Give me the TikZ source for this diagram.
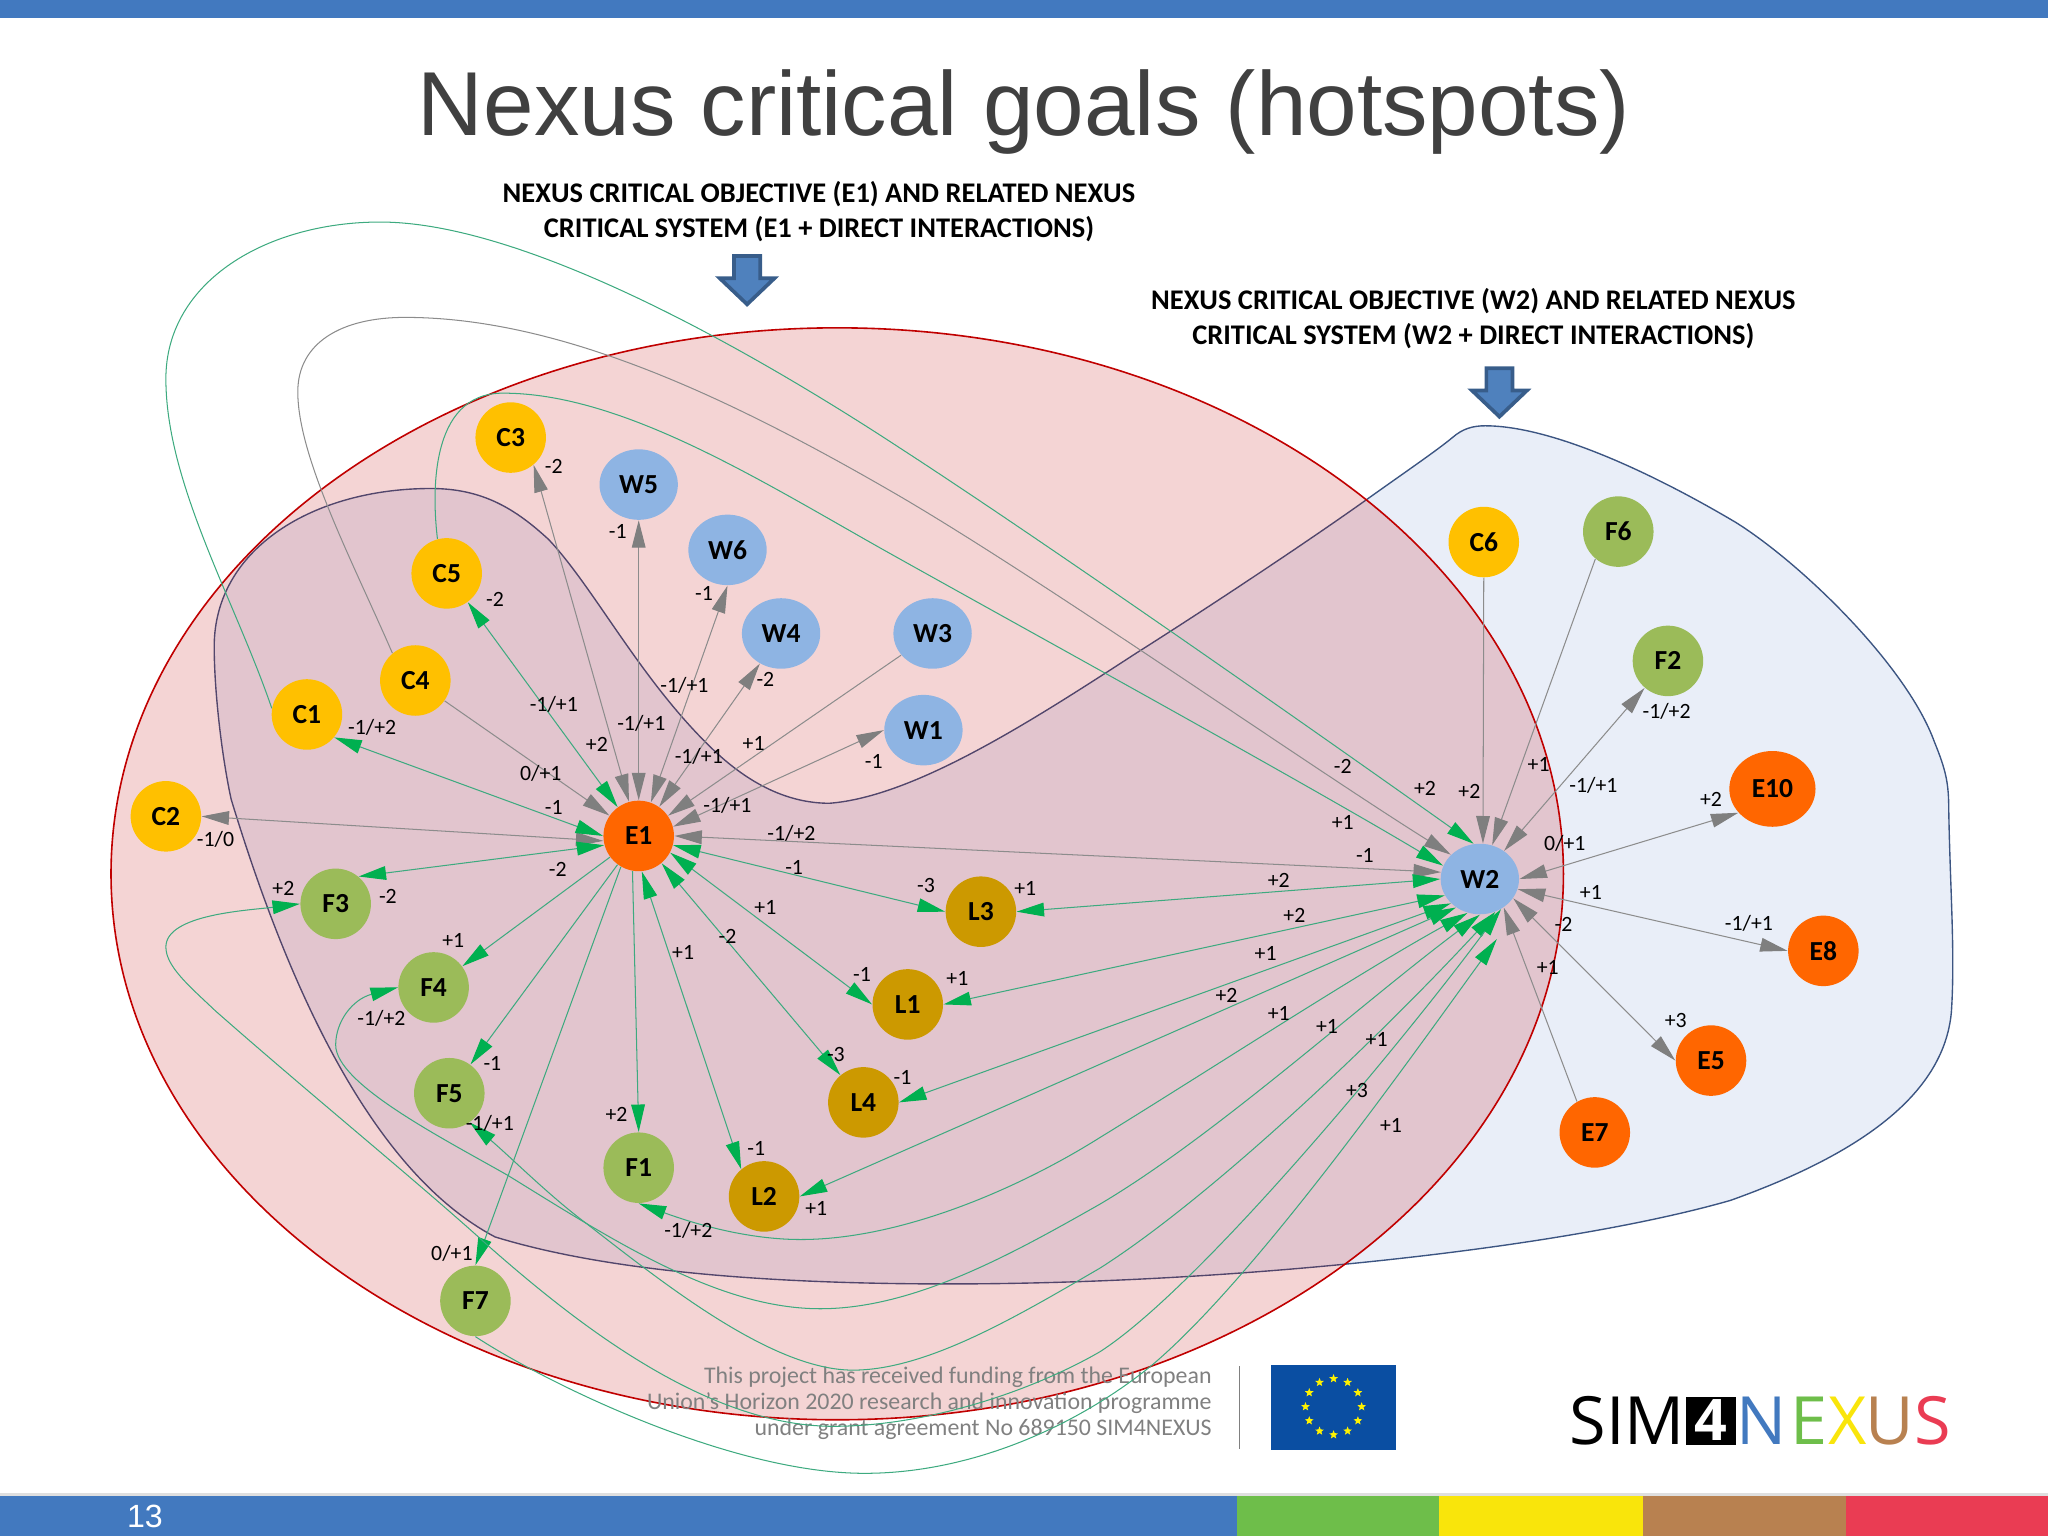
\documentclass[tikz,border=0pt]{standalone}
\usepackage{fontspec}
\setmainfont{Carlito}
\newfontfamily\titlefont{Liberation Sans}
\newfontfamily\logofont{Open Sans}
\usetikzlibrary{arrows.meta,shapes.geometric}
\definecolor{barblue}{HTML}{4279BF}
\definecolor{bargreen}{HTML}{6EBE4A}
\definecolor{baryellow}{HTML}{F9E50B}
\definecolor{barbrown}{HTML}{B88150}
\definecolor{barred}{HTML}{EA3C53}
\definecolor{linegreen}{HTML}{3DAA7F}
\definecolor{tipgreen}{HTML}{00B050}
\definecolor{linegray}{HTML}{8C8C8C}
\definecolor{tipgray}{HTML}{7F7F7F}
\tikzset{
	blob/.style={draw=none,shape=ellipse,inner sep=0pt,minimum width=1.08cm,minimum height=1.08cm,font=\fontsize{12}{14}\selectfont\bfseries},
	cnode/.style={blob,fill={rgb,255:red,255;green,192;blue,0}},
	fnode/.style={blob,fill={rgb,255:red,155;green,187;blue,89}},
	enode/.style={blob,fill={rgb,255:red,255;green,102;blue,0}},
	lnode/.style={blob,fill={rgb,255:red,204;green,153;blue,0}},
	wnode/.style={blob,fill={rgb,255:red,142;green,180;blue,227},minimum width=1.2cm},
	greenlink/.style={color=linegreen,line width=.45pt,>={Triangle[length=.42cm,width=.21cm,color=tipgreen]}},
	graylink/.style={color=linegray,line width=.45pt,>={Triangle[length=.42cm,width=.21cm,color=tipgray]}},
	edgelabel/.style={inner sep=0pt,font=\fontsize{9.5}{11}\selectfont},
	headline/.style={align=center,inner sep=0pt,font=\fontsize{12.4}{15}\selectfont\bfseries},
	blockarrow/.style={fill={rgb,255:red,79;green,129;blue,189},draw={rgb,255:red,56;green,93;blue,138},line width=1.6pt},
	eustar/.style={shape=star,star points=5,star point ratio=2.3,fill=yellow,inner sep=0pt,minimum size=.14cm},
	logoletter/.style={inner sep=0pt,font=\logofont\fontsize{29}{30}\selectfont}
}
\begin{document}
\begin{tikzpicture}[x=0.02cm,y=-0.02cm]
	\useasboundingbox (0,0) rectangle (1568,1176);
	
	% Draw bars.
	\fill[barblue] (0,0) rectangle (1568,14);
	\fill[gray!25] (0,1143) rectangle (1568,1145);
	\fill[barblue] (0,1145) rectangle (947,1176);
	\fill[bargreen] (947,1145) rectangle (1102,1176);
	\fill[baryellow] (1102,1145) rectangle (1258,1176);
	\fill[barbrown] (1258,1145) rectangle (1413,1176);
	\fill[barred] (1413,1145) rectangle (1568,1176);
	\node[white,inner sep=0pt,font=\titlefont\fontsize{14}{16}\selectfont] (pagenum) at (111,1161) {13};
	
	% Draw title and headlines.
	\node[inner sep=0pt,text={rgb,255:red,64;green,64;blue,64},font=\titlefont\fontsize{39.6}{44}\selectfont] (title) at (784,86) {Nexus critical goals (hotspots)};
	\node[headline] (headE) at (627,162) {NEXUS CRITICAL OBJECTIVE (E1) AND RELATED NEXUS\\ CRITICAL SYSTEM (E1 + DIRECT INTERACTIONS)};
	\node[headline] (headW) at (1128,244) {NEXUS CRITICAL OBJECTIVE (W2) AND RELATED NEXUS\\CRITICAL SYSTEM (W2 + DIRECT INTERACTIONS)};
	\foreach \ax/\ay in {572/196,1148/282}
		\draw[blockarrow,shift={(\ax,\ay)}] (-10,0) -- (10,0) -- (10,17) -- (21,17) -- (0,37) -- (-21,17) -- (-10,17) -- cycle;
	
	% Draw critical systems.
	\draw[fill={rgb,255:red,233;green,238;blue,248},draw={rgb,255:red,60;green,85;blue,130},line width=.6pt] (1137,326) .. controls (1190,326) and (1270,365) .. (1329,400) .. controls (1380,432) and (1460,510) .. (1481,568) .. controls (1490,590) and (1492,600) .. (1492,620) .. controls (1493,680) and (1497,730) .. (1494,775) .. controls (1488,840) and (1420,885) .. (1325,919) .. controls (1200,955) and (950,983) .. (726,983) .. controls (600,983) and (470,975) .. (379,947) .. controls (290,900) and (225,770) .. (177,612) .. controls (170,580) and (164,530) .. (164,495) .. controls (164,420) and (240,374) .. (330,374) .. controls (370,374) and (395,390) .. (420,413) .. controls (455,450) and (490,520) .. (545,573) .. controls (570,597) and (600,615) .. (635,615) .. controls (700,610) and (790,552) .. (870,500) .. controls (930,462) and (1005,412) .. (1047,382) .. controls (1075,362) and (1100,345) .. (1112,335) .. controls (1120,328) and (1128,326) .. (1137,326) -- cycle;
	\fill[fill={rgb,255:red,192;green,0;blue,0},fill opacity=.17] (641,669) ellipse (556 and 418);
	\draw[color={rgb,255:red,192;green,0;blue,0},line width=.7pt] (641,669) ellipse (556 and 418);
	
	% Draw funding note and logos.
	\node[anchor=north east,align=right,inner sep=0pt,text=gray,font=\fontsize{10.4}{11.35}\selectfont] (funding) at (928,1046) {This project has received funding from the European\\Union's Horizon 2020 research and innovation programme\\under grant agreement No 689150 SIM4NEXUS};
	\draw[gray,line width=.8pt] (949,1046) -- (949,1109);
	\fill[fill={rgb,255:red,10;green,78;blue,162}] (973,1045) rectangle (1069,1110);
	\foreach \a in {0,30,...,330}
		\node[eustar] (star\a) at ([shift={(\a:21.5)}]1021,1077) {};
	\node[logoletter] (logoSIM) at (1246,1088) {SIM};
	\node[logoletter,fill=black,text=white,minimum width=.76cm,minimum height=.74cm,text height=.6cm,font=\logofont\bfseries\fontsize{25}{25}\selectfont] (logo4) at (1310,1088) {4};
	\node[logoletter,text=barblue] (logoN) at (1349,1088) {N};
	\node[logoletter,text=bargreen] (logoE) at (1385,1088) {E};
	\node[logoletter,text=baryellow] (logoX) at (1415,1088) {X};
	\node[logoletter,text=barbrown] (logoU) at (1447,1088) {U};
	\node[logoletter,text=barred] (logoS) at (1480,1088) {S};
	
	% Draw nodes.
	\node[cnode] (C1) at (235,547) {C1};
	\node[cnode] (C2) at (127,625) {C2};
	\node[cnode] (C3) at (391,335) {C3};
	\node[cnode] (C4) at (318,521) {C4};
	\node[cnode] (C5) at (342,439) {C5};
	\node[cnode] (C6) at (1136,415) {C6};
	\node[fnode] (F1) at (489,894) {F1};
	\node[fnode] (F2) at (1277,506) {F2};
	\node[fnode] (F3) at (257,692) {F3};
	\node[fnode] (F4) at (332,756) {F4};
	\node[fnode] (F5) at (344,837) {F5};
	\node[fnode] (F6) at (1239,407) {F6};
	\node[fnode] (F7) at (364,996) {F7};
	\node[enode] (E1) at (489,640) {E1};
	\node[enode] (E5) at (1310,812) {E5};
	\node[enode] (E7) at (1221,867) {E7};
	\node[enode] (E8) at (1396,728) {E8};
	\node[enode,minimum width=1.32cm,minimum height=1.16cm] (E10) at (1357,604) {E10};
	\node[lnode] (L1) at (695,769) {L1};
	\node[lnode] (L2) at (585,916) {L2};
	\node[lnode] (L3) at (751,698) {L3};
	\node[lnode] (L4) at (661,844) {L4};
	\node[wnode] (W1) at (707,559) {W1};
	\node[wnode] (W2) at (1133,673) {W2};
	\node[wnode] (W3) at (714,485) {W3};
	\node[wnode] (W4) at (598,485) {W4};
	\node[wnode] (W5) at (489,371) {W5};
	\node[wnode] (W6) at (557,421) {W6};
	\coordinate (fsevenend) at (1146,719);
	
	% Draw straight links.
	\foreach \from/\to in {C3.-50/E1,W5/E1,W6.-90/E1.70,W4/E1,W1.west/E1.15,C2.east/E1.188,E1.east/W2.170,F2/W2,E10.-145/W2.east,E8.west/W2.-15,E5.west/W2.-30}
		\draw[graylink,<->] (\from) -- (\to);
	\foreach \from/\to in {W3/E1,C4/E1,C6.south/W2.85,F6.-130/W2.70,E7.120/W2.-50}
		\draw[graylink,->] (\from) -- (\to);
	\foreach \from/\to in {C5/E1,C1.-40/E1.180,F3.50/E1.195,L3.west/E1.-15,L1.west/E1.-28,L4/E1.-50,L2.130/E1.-85,L3.east/W2.180,L1.east/W2.-155,L4.east/W2.-140,L2.east/W2.-130}
		\draw[greenlink,<->] (\from) -- (\to);
	\foreach \from/\to in {E1/F4,E1/F5,E1.-120/F7.north,E1.-100/F1.north}
		\draw[greenlink,->] (\from) -- (\to);
	
	% Draw curved links.
	\draw[greenlink,->] (C1.170) .. controls (180,460) and (127,370) .. (127,290) .. controls (127,215) and (205,170) .. (291,170) .. controls (400,170) and (570,265) .. (689,343) .. controls (800,415) and (1000,555) .. (W2.100);
	\draw[graylink,->] (C4.130) .. controls (270,430) and (228,350) .. (228,300) .. controls (228,262) and (262,243) .. (310,243) .. controls (430,243) and (560,305) .. (689,380) .. controls (800,445) and (1000,585) .. (W2.140);
	\draw[greenlink,->] (C5.105) .. controls (331,380) and (328,301) .. (385,301) .. controls (480,301) and (590,373) .. (689,428) .. controls (800,490) and (1000,600) .. (W2.160);
	\draw[greenlink,<->] (F1.south) .. controls (540,940) and (578,949) .. (613,949) .. controls (690,949) and (780,910) .. (842,871) .. controls (925,820) and (1040,745) .. (W2.-110);
	\draw[greenlink,<->] (F4.west) .. controls (270,765) and (257,782) .. (257,800) .. controls (257,830) and (340,872) .. (389,900) .. controls (470,950) and (550,1002) .. (628,1002) .. controls (700,1002) and (775,960) .. (842,922) .. controls (930,870) and (1040,770) .. (W2.-90);
	\draw[greenlink,<->] (F5.-55) .. controls (390,885) and (420,915) .. (448,936) .. controls (505,980) and (590,1049) .. (653,1049) .. controls (710,1049) and (780,1007) .. (842,971) .. controls (930,915) and (1060,790) .. (W2.-65);
	\draw[greenlink,<->] (F3.west) .. controls (190,697) and (127,700) .. (127,725) .. controls (127,740) and (145,755) .. (165,774) .. controls (240,840) and (320,905) .. (374,954) .. controls (440,1012) and (540,1092) .. (638,1092) .. controls (710,1092) and (790,1065) .. (842,1035) .. controls (920,985) and (1080,790) .. (W2.-55);
	\draw[greenlink,->] (F7.south) .. controls (420,1060) and (560,1128) .. (662,1128) .. controls (740,1128) and (820,1095) .. (881,1046) .. controls (960,980) and (1080,810) .. (fsevenend);
	
	% Draw link labels.
	\foreach [count=\i] \x/\y/\txt in {
		424/357/-2,473/407/-1,539/454/-1,379/459/-2,586/520/-2,424/539/{-1/+1},524/525/{-1/+1},491/554/{-1/+1},
		285/557/{-1/+2},457/570/+2,577/569/+1,669/583/-1,535/579/{-1/+1},414/592/{0/+1},424/618/-1,557/617/{-1/+1},
		606/638/{-1/+2},165/643/{-1/0},608/664/-1,427/666/-2,217/680/+2,297/686/-2,709/678/-3,785/680/+1,
		586/695/+1,347/720/+1,557/717/-2,523/729/+1,660/746/-1,733/749/+1,292/780/{-1/+2},377/814/-1,
		640/807/-3,691/825/-1,375/860/{-1/+1},472/853/+2,579/879/-1,625/925/+1,527/942/{-1/+2},346/960/{0/+1},
		1028/587/-2,1091/604/+2,1125/606/+2,1178/585/+1,1220/601/{-1/+1},1276/545/{-1/+2},1310/612/+2,1028/630/+1,
		1045/655/-1,1198/646/{0/+1},979/674/+2,991/701/+2,1218/683/+1,1197/708/-2,1339/707/{-1/+1},969/730/+1,
		1185/741/+1,939/762/+2,979/776/+1,1016/786/+1,1054/796/+1,1283/781/+3,1039/835/+3,1065/862/+1}
		\node[edgelabel] (label\i) at (\x,\y) {\txt};
\end{tikzpicture}
\end{document}
